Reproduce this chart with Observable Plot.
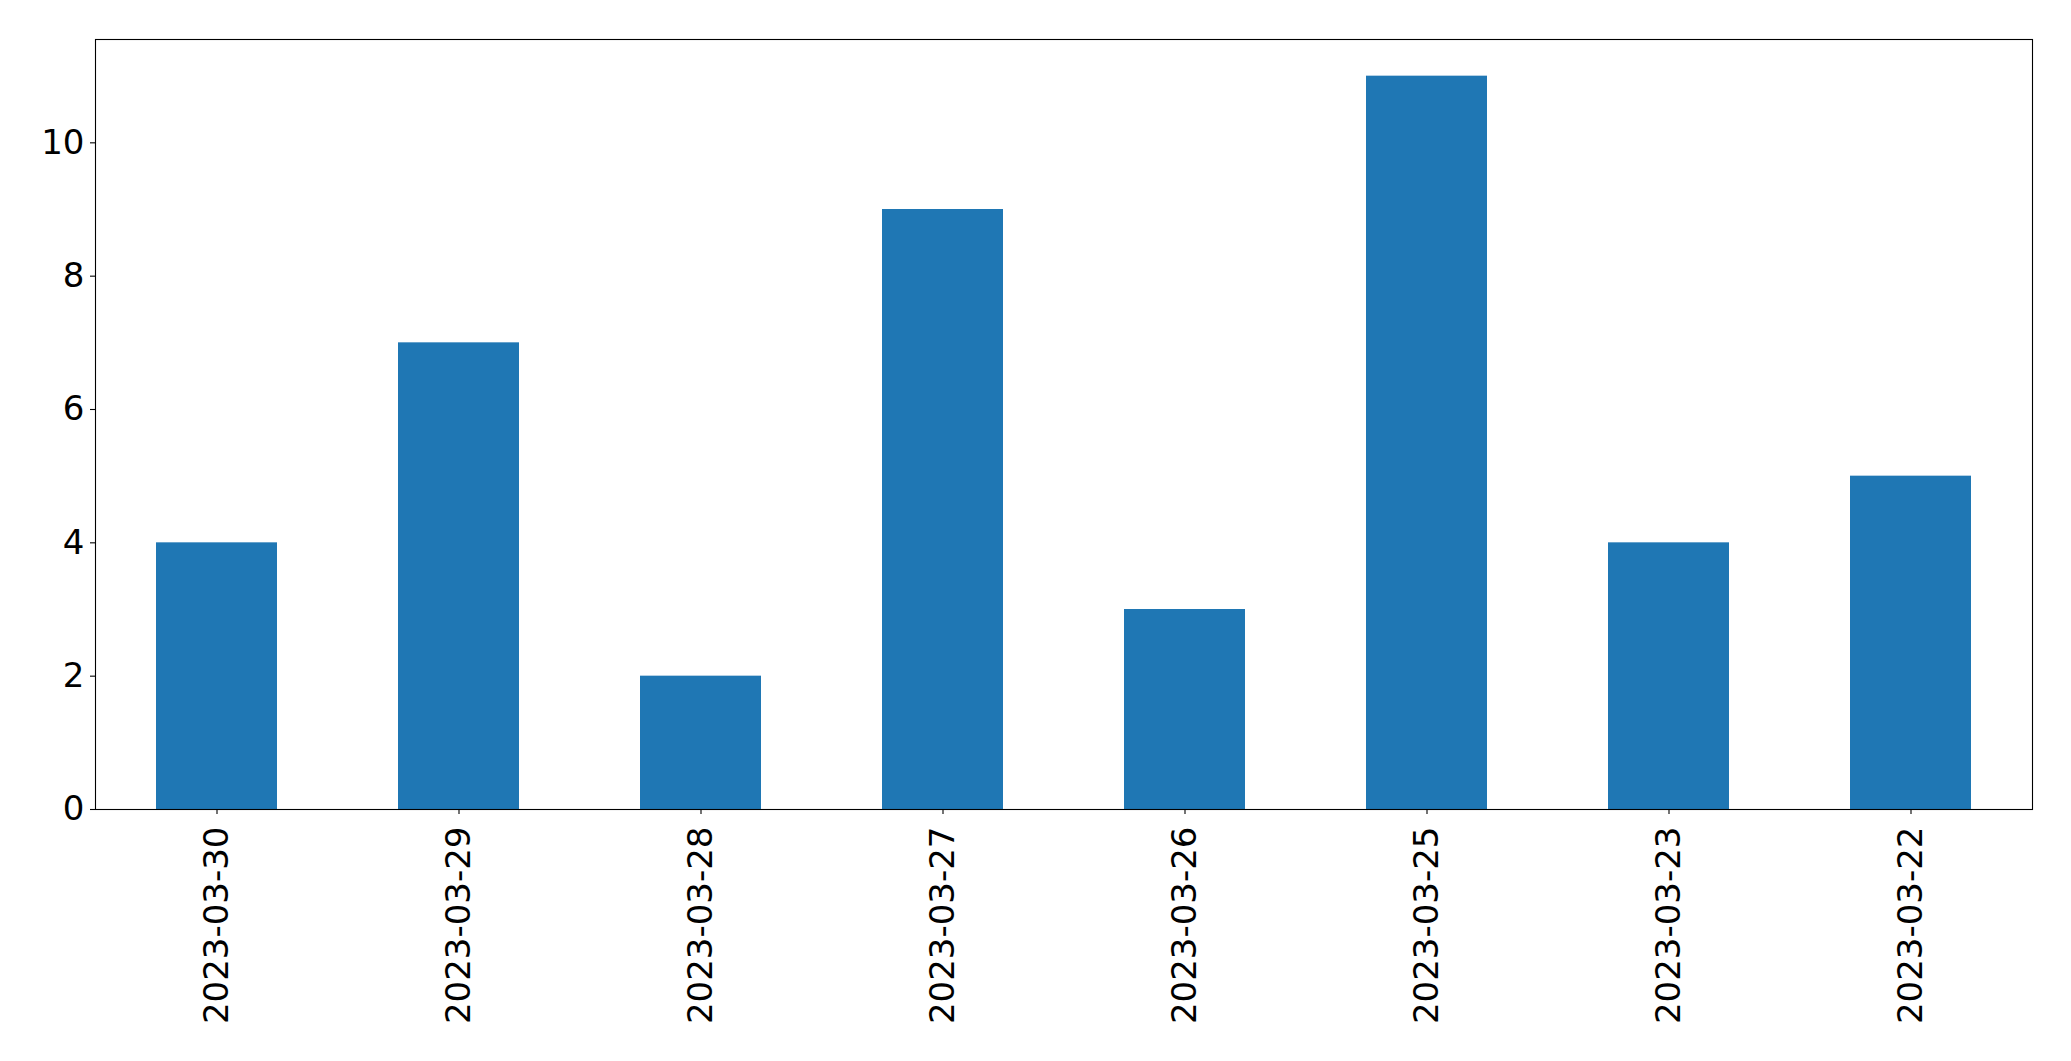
<!DOCTYPE html>
<html>
<head>
<meta charset="utf-8">
<script src="https://cdn.jsdelivr.net/npm/d3@7"></script>
<script src="https://cdn.jsdelivr.net/npm/@observablehq/plot@0.6"></script>
<style>
  html, body { margin: 0; padding: 0; background: #fff; }
  #chart svg { display: block; }
</style>
</head>
<body>
<div id="chart"></div>
<script>
const dates = ["2023-03-30", "2023-03-29", "2023-03-28", "2023-03-27", "2023-03-26", "2023-03-25", "2023-03-23", "2023-03-22"];
const counts = [4, 7, 2, 9, 3, 11, 4, 5];
const yTicks = [0, 2, 4, 6, 8, 10];

const data = dates.map((d, i) => ({date: d, count: counts[i]}));

const chart = Plot.plot({
  width: 2071,
  height: 1061,
  marginLeft: 95,
  marginRight: 39,
  marginTop: 39,
  marginBottom: 252,
  style: {
    fontFamily: "DejaVu Sans",
    fontSize: "34px",
    color: "black",
    background: "white"
  },
  x: {
    domain: dates,
    paddingInner: 0.5,
    paddingOuter: 0.25,
    label: null
  },
  y: {
    domain: [0, 11.55],
    label: null
  },
  marks: [
    Plot.barY(data, {x: "date", y: "count", fill: "#1f77b4"}),
    Plot.axisX({tickRotate: -90, tickSize: 5, tickPadding: 12, label: null, stroke: "black", strokeWidth: 1.1}),
    Plot.axisY({ticks: yTicks, tickSize: 5, tickPadding: 6, label: null, stroke: "black", strokeWidth: 1.1, tickFormat: d => String(d)}),
    Plot.frame({stroke: "black", strokeWidth: 1.1})
  ]
});
document.getElementById("chart").appendChild(chart);
</script>
</body>
</html>
